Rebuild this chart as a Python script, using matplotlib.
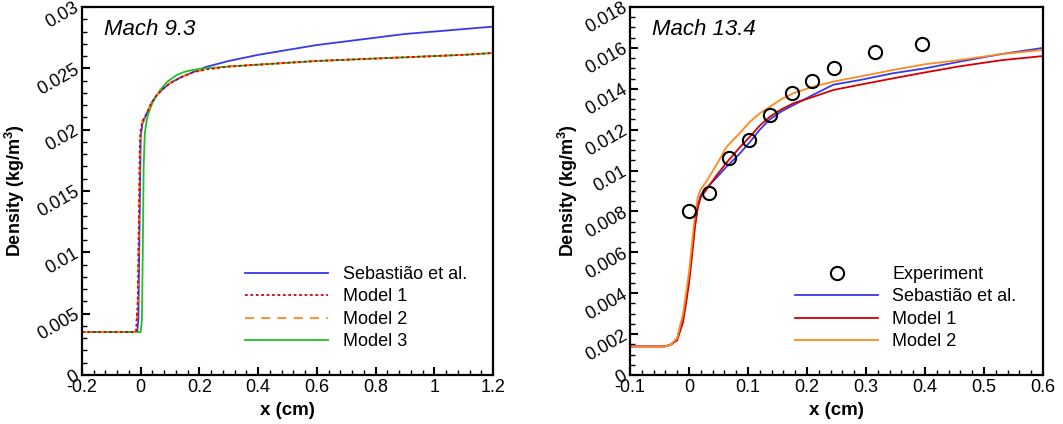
import matplotlib
matplotlib.use("Agg")
import matplotlib.pyplot as plt
from matplotlib.ticker import MultipleLocator, FuncFormatter

plt.rcParams['font.family'] = ['Liberation Sans', 'DejaVu Sans']
plt.rcParams['mathtext.fontset'] = 'custom'
plt.rcParams['mathtext.rm'] = 'Liberation Sans'
plt.rcParams['mathtext.bf'] = 'Liberation Sans:bold'

# ---------------- Left panel: Mach 9.3 ----------------
m93_seb_x = [-0.2, -0.012, -0.008, -0.004, 0.0, 0.006, 0.02, 0.035, 0.054, 0.075, 0.1, 0.14, 0.18,
             0.22, 0.3, 0.4, 0.5, 0.6, 0.7, 0.8, 0.9, 1.0, 1.1, 1.2]
m93_seb_y = [0.0035, 0.0035, 0.0045, 0.012, 0.0195, 0.0205, 0.0213, 0.0221, 0.0228, 0.0233, 0.0238,
             0.0243, 0.0247, 0.0251, 0.0256, 0.0261, 0.0265, 0.0269, 0.0272, 0.0275, 0.0278, 0.0280,
             0.0282, 0.0284]

m93_mod_x = [-0.2, -0.016, -0.01, -0.006, -0.003, 0.0, 0.006, 0.02, 0.035, 0.054, 0.075, 0.1, 0.14,
             0.18, 0.22, 0.3, 0.4, 0.5, 0.6, 0.7, 0.8, 0.9, 1.0, 1.1, 1.2]
m93_mod1_y = [0.0035, 0.0035, 0.006, 0.013, 0.0185, 0.0200, 0.0207, 0.0213, 0.0221, 0.0228, 0.0233,
              0.0238, 0.0243, 0.0247, 0.0249, 0.02515, 0.0253, 0.02545, 0.0256, 0.0257, 0.0258,
              0.0259, 0.0260, 0.0261, 0.02625]
m93_mod2_y = [0.0035, 0.0035, 0.006, 0.013, 0.0185, 0.0200, 0.0207, 0.0213, 0.0221, 0.0228, 0.0233,
              0.0238, 0.0243, 0.0247, 0.0249, 0.02515, 0.0253, 0.02545, 0.0256, 0.0257, 0.0258,
              0.0259, 0.0260, 0.0261, 0.02625]

m93_mod3_x = [-0.2, 0.0, 0.004, 0.007, 0.010, 0.014, 0.02, 0.026, 0.04, 0.066, 0.09, 0.123, 0.15,
              0.178, 0.22, 0.3, 0.4, 0.5, 0.6, 0.7, 0.8, 0.9, 1.0, 1.1, 1.2]
m93_mod3_y = [0.0035, 0.0035, 0.0045, 0.010, 0.017, 0.0197, 0.0207, 0.0213, 0.0222, 0.02323, 0.0239,
              0.02446, 0.02472, 0.02487, 0.0250, 0.02515, 0.0253, 0.02545, 0.0256, 0.0257, 0.0258,
              0.0259, 0.0260, 0.0261, 0.02625]

# ---------------- Right panel: Mach 13.4 ----------------
exp_x = [0.0, 0.034, 0.068, 0.102, 0.138, 0.174, 0.209, 0.245, 0.315, 0.395]
exp_y = [0.0080, 0.0089, 0.0106, 0.0115, 0.0127, 0.0138, 0.0144, 0.0150, 0.0158, 0.0162]

m134_x = [-0.1, -0.04, -0.03, -0.02, -0.01, -0.005, 0.0, 0.005, 0.01, 0.015, 0.02, 0.028, 0.045,
          0.064, 0.085, 0.1034, 0.12, 0.137, 0.157, 0.177, 0.21, 0.2446, 0.29, 0.346, 0.4, 0.459,
          0.53, 0.6]
m134_seb_y = [0.0014, 0.0014, 0.0015, 0.0018, 0.0029, 0.0037, 0.0047, 0.0060, 0.0074, 0.0083,
              0.0088, 0.0091, 0.0096, 0.0102, 0.0108, 0.0114, 0.0120, 0.0125, 0.0129, 0.0132,
              0.0137, 0.0142, 0.01443, 0.01476, 0.0150, 0.01533, 0.0157, 0.0160]
m134_mod1_y = [0.0014, 0.0014, 0.0015, 0.0017, 0.0026, 0.0035, 0.0045, 0.0058, 0.0072, 0.0082,
               0.0087, 0.0090, 0.0097, 0.0104, 0.0111, 0.01166, 0.0122, 0.01263, 0.0130, 0.01329,
               0.0136, 0.01394, 0.0142, 0.01451, 0.0148, 0.0151, 0.0154, 0.0156]
m134_mod2_y = [0.0014, 0.0014, 0.0015, 0.0018, 0.0030, 0.0040, 0.0050, 0.0064, 0.0078, 0.0087,
               0.0091, 0.0094, 0.0102, 0.01117, 0.0118, 0.01239, 0.0128, 0.01312, 0.0135, 0.01378,
               0.0141, 0.01435, 0.0146, 0.01492, 0.0152, 0.01541, 0.0157, 0.0159]

BLUE = '#3838f0'
RED = '#d40000'
ORANGE = '#ff8a1c'
GREEN = '#1ec41e'

fig = plt.figure(figsize=(10.63, 4.24), dpi=100)
axL = fig.add_axes([82 / 1063, 49 / 424, 411 / 1063, 368 / 424])
axR = fig.add_axes([630 / 1063, 49 / 424, 413 / 1063, 368 / 424])

lw = 1.3
axL.plot(m93_seb_x, m93_seb_y, color=BLUE, lw=lw, label='Sebastião et al.')
axL.plot(m93_mod3_x, m93_mod3_y, color=GREEN, lw=lw, label='Model 3')
axL.plot(m93_mod_x, m93_mod2_y, color=ORANGE, lw=lw, dashes=(5, 4), label='Model 2')
axL.plot(m93_mod_x, m93_mod1_y, color=RED, lw=lw, dashes=(1.5, 1.5), label='Model 1')

axR.plot(m134_x, m134_seb_y, color=BLUE, lw=lw, label='Sebastião et al.')
axR.plot(m134_x, m134_mod1_y, color=RED, lw=lw, label='Model 1')
axR.plot(m134_x, m134_mod2_y, color=ORANGE, lw=lw, label='Model 2')
axR.plot(exp_x, exp_y, linestyle='none', marker='o', markersize=9.5, markerfacecolor='none',
         markeredgecolor='black', markeredgewidth=1.5, label='Experiment', zorder=5)


def fmt(v, pos):
    s = ('%.4f' % v).rstrip('0').rstrip('.')
    if s in ('-0', ''):
        s = '0'
    return s


FS = 13
for ax, xlim, ylim, xmaj, xmin, ymaj, ymin, title in [
        (axL, (-0.2, 1.2), (0, 0.03), 0.2, 0.04, 0.005, 0.001, 'Mach 9.3'),
        (axR, (-0.1, 0.6), (0, 0.018), 0.1, 0.02, 0.002, 0.0005, 'Mach 13.4')]:
    ax.set_xlim(*xlim)
    ax.set_ylim(*ylim)
    ax.xaxis.set_major_locator(MultipleLocator(xmaj))
    ax.xaxis.set_minor_locator(MultipleLocator(xmin))
    ax.yaxis.set_major_locator(MultipleLocator(ymaj))
    ax.yaxis.set_minor_locator(MultipleLocator(ymin))
    ax.xaxis.set_major_formatter(FuncFormatter(fmt))
    ax.yaxis.set_major_formatter(FuncFormatter(fmt))
    for sp in ax.spines.values():
        sp.set_linewidth(1.6)
    ax.tick_params(which='both', direction='in', top=False, right=False, labelsize=FS)
    ax.tick_params(which='major', length=6, width=1.5, pad=3)
    ax.tick_params(which='minor', length=3.5, width=1.0)
    for lab in ax.get_yticklabels():
        lab.set_rotation(30)
        lab.set_rotation_mode('anchor')
        lab.set_ha('right')
        lab.set_va('center')
    ax.set_xlabel('x (cm)', fontsize=13.5, fontweight='bold')
    ax.set_ylabel(r'Density (kg/m$^\mathbf{3}$)', fontsize=13, fontweight='bold')
    ax.xaxis.set_label_coords(0.5, -0.074)
    ax.text(0.054, 0.94, title, transform=ax.transAxes, fontsize=16, style='italic',
            ha='left', va='center')

axL.yaxis.set_label_coords(-0.135, 0.5)
axR.yaxis.set_label_coords(-0.12, 0.5)

hL, lL = axL.get_legend_handles_labels()
orderL = ['Sebastião et al.', 'Model 1', 'Model 2', 'Model 3']
hL = [hL[lL.index(n)] for n in orderL]
axL.legend(hL, orderL, loc='upper left', bbox_to_anchor=(0.397, 0.296), frameon=False,
           fontsize=FS, handlelength=4.6, handletextpad=0.8, labelspacing=0.3,
           borderpad=0, borderaxespad=0)

hR, lR = axR.get_legend_handles_labels()
orderR = ['Experiment', 'Sebastião et al.', 'Model 1', 'Model 2']
hR = [hR[lR.index(n)] for n in orderR]
axR.legend(hR, orderR, loc='upper left', bbox_to_anchor=(0.3995, 0.296), frameon=False,
           fontsize=FS, handlelength=4.6, handletextpad=0.8, labelspacing=0.3,
           borderpad=0, borderaxespad=0)

fig.savefig('out.png', dpi=100)
